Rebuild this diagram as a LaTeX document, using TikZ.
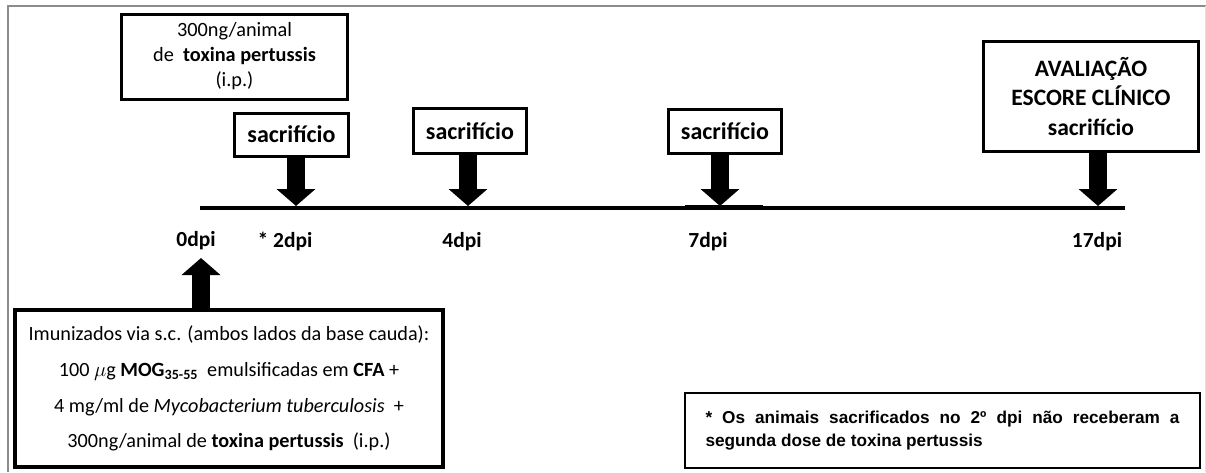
\documentclass[tikz,border=0pt]{standalone}
\usepackage{fontspec}
\setmainfont{Carlito}
\newfontfamily\arialfont{Liberation Sans}
\usetikzlibrary{arrows.meta}
\begin{document}
\begin{tikzpicture}[x=1pt,y=-1pt,
  box/.style={draw=black, line width=3pt, inner sep=0pt, align=center},
  sacbox/.style={box, font=\fontsize{24}{28}\selectfont\bfseries},
  dpilabel/.style={font=\fontsize{21.5}{24}\selectfont\bfseries, inner sep=0pt},
  blockarrow/.style={line width=18pt, -{Triangle[width=38pt,length=17pt]}},
  timeline/.style={line width=4.5pt},
]
\useasboundingbox (0,0) rectangle (1206,472);
\fill[white] (0,0) rectangle (1206,472);
\draw[black!45, line width=1.2pt] (8,472) -- (8,6) -- (1206,6);
\draw[black!12, line width=1pt] (1205,6) -- (1205,472);

% top box
\node[box, minimum width=226pt, minimum height=85pt, font=\fontsize{20.3}{25}\selectfont] (pt) at (234.5,56.5)
  {300ng/animal\\de~ \textbf{toxina pertussis}\\(i.p.)};

% sacrificio boxes
\node[sacbox, minimum width=114pt, minimum height=43pt] (s2) at (291.5,134.5) {sacrifício};
\node[sacbox, minimum width=113pt, minimum height=45pt] (s4) at (470,131) {sacrifício};
\node[sacbox, minimum width=113pt, minimum height=44pt] (s7) at (725,131.5) {sacrifício};
\node[box, minimum width=215pt, minimum height=110pt, font=\fontsize{23.5}{29.5}\selectfont\bfseries] (av) at (1091,96.5)
  {AVALIAÇÃO\\ESCORE CLÍNICO\\sacrifício};

% timeline
\coordinate (t0) at (200,208);
\coordinate (tend) at (1125,208);
\draw[timeline] (t0) -- (tend);
\coordinate (seg1) at (685,205.5);
\coordinate (seg2) at (763,205.5);
\draw[line width=2pt] (seg1) -- (seg2);

% arrow tips on the timeline
\coordinate (a2) at (296,206);
\coordinate (a4) at (468,206);
\coordinate (a7) at (720,206);
\coordinate (a17) at (1098,206);
\coordinate (a0) at (201,258);

\draw[blockarrow] (s2.south -| a2) -- (a2);
\draw[blockarrow] (s4.south -| a4) -- (a4);
\draw[blockarrow] (s7.south -| a7) -- (a7);
\draw[blockarrow] (av.south -| a17) -- (a17);

% labels
\node[dpilabel] (d0) at (196,241) {0dpi};
\node[dpilabel] (d2) at (285,241) {*~2dpi};
\node[dpilabel] (d4) at (462,242) {4dpi};
\node[dpilabel] (d7) at (708,242) {7dpi};
\node[dpilabel] (d17) at (1097,242) {17dpi};

% immunization box
\node[box, line width=4pt, minimum width=428pt, minimum height=157pt, font=\fontsize{20.2}{35.7}\selectfont] (imm) at (229,388.5)
  {Imunizados via s.c. (ambos lados da base cauda):\\
   100 $\mu$g \textbf{MOG}\textsubscript{\textbf{35-55}}~ emulsificadas em \textbf{CFA} +\\
   4 mg/ml de \textit{Mycobacterium tuberculosis}~ +\\
   300ng/animal de \textbf{toxina pertussis}~ (i.p.)};
\draw[blockarrow] (imm.north -| a0) -- (a0);

% note box
\node[draw=black, line width=1.3pt, minimum width=515pt, minimum height=75pt, text width=474pt, align=justify, inner sep=0pt,
  font=\arialfont\bfseries\fontsize{17.2}{23}\selectfont] (note) at (942.5,430.5)
  {* Os animais sacrificados no 2º dpi não receberam a\linebreak segunda dose de toxina pertussis};
\end{tikzpicture}
\end{document}
